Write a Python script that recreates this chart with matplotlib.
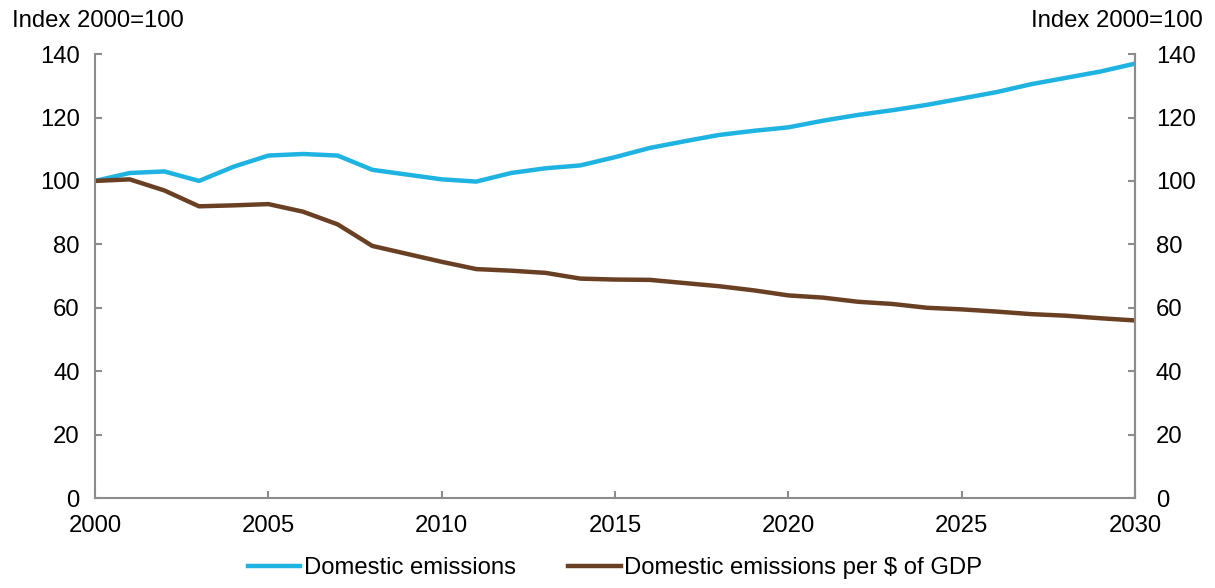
import matplotlib.pyplot as plt

plt.rcParams['font.family'] = ['Liberation Sans', 'DejaVu Sans']

years = list(range(2000, 2031))
domestic = [100, 102.5, 103, 100, 104.5, 108, 108.5, 108, 103.5, 102, 100.5,
            99.8, 102.5, 104, 104.9, 107.5, 110.4, 112.5, 114.5, 115.8, 116.9,
            119, 120.8, 122.3, 124, 126, 128, 130.5, 132.5, 134.5, 137]
per_gdp = [100, 100.5, 97, 92, 92.3, 92.7, 90.3, 86.3, 79.5, 77, 74.5,
           72.2, 71.7, 71, 69.2, 68.9, 68.8, 67.8, 66.8, 65.5, 63.9,
           63.2, 61.9, 61.2, 60, 59.5, 58.8, 58, 57.5, 56.7, 56]
labels = ['Domestic emissions', 'Domestic emissions per $ of GDP']
yticks = [0, 20, 40, 60, 80, 100, 120, 140]
xticks = [2000, 2005, 2010, 2015, 2020, 2025, 2030]

blue = '#1FB3E2'
brown = '#6A4024'
grey = '#8C8C8C'
fs = 17.2

fig = plt.figure(figsize=[12.15, 5.88], dpi=100)
ax = fig.add_axes([0.0782, 0.153, 0.856, 0.755])
ax.plot(years, domestic, color=blue, lw=3.2, label=labels[0])
ax.plot(years, per_gdp, color=brown, lw=3.2, label=labels[1])

ax.set_xlim(2000, 2030)
ax.set_ylim(0, 140)
ax.set_xticks(xticks)
ax.set_yticks(yticks)
ax.spines['top'].set_visible(False)
for s in ['left', 'right', 'bottom']:
    ax.spines[s].set_color(grey)
    ax.spines[s].set_linewidth(1.5)
ax.tick_params(axis='both', direction='in', color=grey, width=1.5, length=5, labelsize=fs)
ax.tick_params(axis='y', pad=11)
ax.tick_params(axis='x', pad=12)

ax2 = ax.twinx()
ax2.set_ylim(0, 140)
ax2.set_yticks(yticks)
ax2.spines['top'].set_visible(False)
ax2.spines['left'].set_visible(False)
ax2.spines['bottom'].set_visible(False)
ax2.spines['right'].set_color(grey)
ax2.spines['right'].set_linewidth(1.5)
ax2.tick_params(axis='y', direction='in', color=grey, width=1.5, length=5, labelsize=fs, pad=15)

fig.text(0.01, 0.965, 'Index 2000=100', fontsize=fs, va='center', ha='left')
fig.text(0.99, 0.965, 'Index 2000=100', fontsize=fs, va='center', ha='right')

ax.legend(loc='center', bbox_to_anchor=(0.5, -0.158), ncol=2, frameon=False,
          fontsize=fs, handlelength=2.2, handletextpad=0.15, columnspacing=2.2)

fig.savefig('out.png', dpi=100)
